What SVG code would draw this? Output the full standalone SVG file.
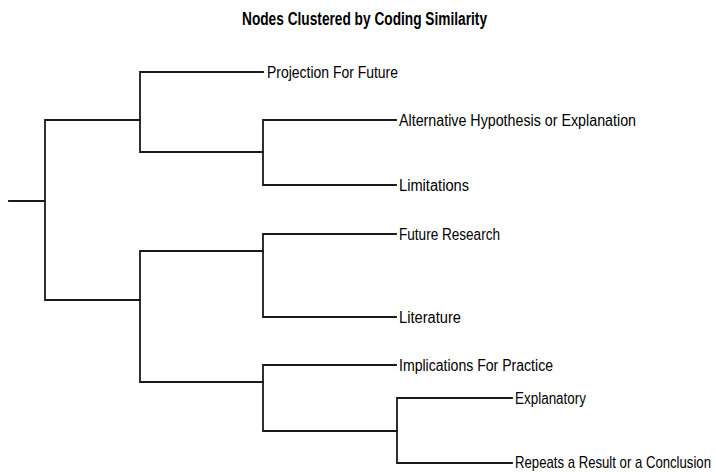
<svg xmlns="http://www.w3.org/2000/svg" width="716" height="472" viewBox="0 0 716 472">
<style>
.e{fill:none;stroke:#1a1a1a;stroke-width:1.8;stroke-linecap:square}
.t{font-family:"Liberation Sans Narrow","Liberation Sans",Arial,sans-serif;font-size:16px;fill:#000}
.h{font-family:"Liberation Sans Narrow","Liberation Sans",Arial,sans-serif;font-size:18px;font-weight:bold;fill:#000}
</style>
<rect width="716" height="472" fill="#fff"/>
<text class="h" x="242" y="25" textLength="245" lengthAdjust="spacingAndGlyphs">Nodes Clustered by Coding Similarity</text>
<g id="connectors">
<path class="e" d="M9 201H45M45 120V300M45 120H140M45 300H140"/>
<path class="e" d="M140 72V152M140 72H263M140 152H263"/>
<path class="e" d="M263 120V185M263 120H396M263 185H396"/>
<path class="e" d="M140 251V382M140 251H263M140 382H263"/>
<path class="e" d="M263 234V317M263 234H396M263 317H396"/>
<path class="e" d="M263 365V431M263 365H396M263 431H397"/>
<path class="e" d="M397 398V463M397 398H512M397 463H512"/>
</g>
<g id="n1"><text class="t" x="267" y="78" textLength="131" lengthAdjust="spacingAndGlyphs">Projection For Future</text></g>
<g id="n2"><text class="t" x="399" y="126" textLength="237" lengthAdjust="spacingAndGlyphs">Alternative Hypothesis or Explanation</text></g>
<g id="n3"><text class="t" x="399" y="191" textLength="70" lengthAdjust="spacingAndGlyphs">Limitations</text></g>
<g id="n4"><text class="t" x="399" y="240" textLength="101" lengthAdjust="spacingAndGlyphs">Future Research</text></g>
<g id="n5"><text class="t" x="399" y="323" textLength="62" lengthAdjust="spacingAndGlyphs">Literature</text></g>
<g id="n6"><text class="t" x="399" y="371" textLength="154" lengthAdjust="spacingAndGlyphs">Implications For Practice</text></g>
<g id="n7"><text class="t" x="515" y="404" textLength="71" lengthAdjust="spacingAndGlyphs">Explanatory</text></g>
<g id="n8"><text class="t" transform="translate(515,467.5) scale(0.85,1)" x="0" y="0" textLength="230.6" lengthAdjust="spacingAndGlyphs">Repeats a Result or a Conclusion</text></g>
</svg>
